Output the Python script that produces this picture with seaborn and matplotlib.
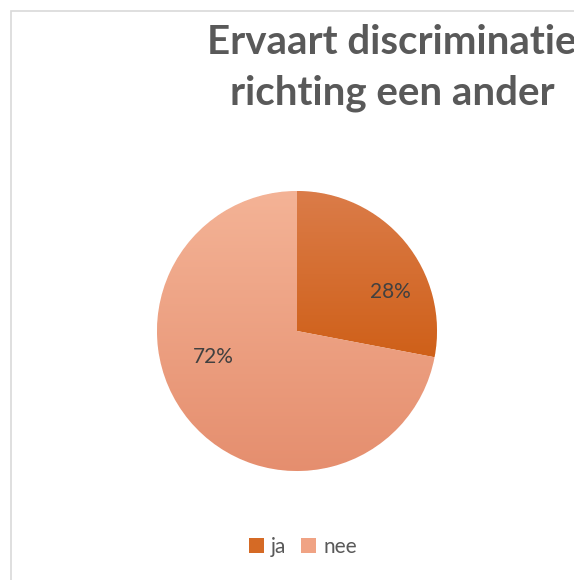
import matplotlib
matplotlib.use("Agg")
import matplotlib.pyplot as plt
import seaborn as sns
import numpy as np
from matplotlib.patches import Rectangle, Patch
from matplotlib.colors import LinearSegmentedColormap

# Gegevens
categorieen = ["ja", "nee"]
percentages = [28, 72]
kleuren_boven = ["#DB7C49", "#F4B396"]
kleuren_onder = ["#CF6019", "#E58E6E"]
kleuren = ["#D56A25", "#F0A384"]

sns.set_theme(style="white")
plt.rcParams["font.family"] = ["Lato", "DejaVu Sans"]

W, H = 574, 580
fig = plt.figure(figsize=(W / 100, H / 100), dpi=100)
fig.patch.set_facecolor("white")

# kader rond de grafiek (loopt door buiten beeld)
fig.patches.append(Rectangle((10.5 / W, -0.1), 1.2, 1 - 10.5 / H + 0.1,
                             transform=fig.transFigure, fill=False,
                             edgecolor="#D9D9D9", linewidth=1.2))

# taart
cx, cy, r = 297, H - 331, 140
ax = fig.add_axes([(cx - r) / W, (cy - r) / H, 2 * r / W, 2 * r / H])
wedges, teksten = ax.pie(percentages, colors=kleuren, startangle=90,
                         counterclock=False, radius=1,
                         wedgeprops=dict(linewidth=0.6, edgecolor="white"))
ax.set_xlim(-1, 1)
ax.set_ylim(-1, 1)
ax.set_aspect("equal")
ax.axis("off")

# verloop per segment
for w, top, bot in zip(wedges, kleuren_boven, kleuren_onder):
    verts = w.get_path().vertices
    y0, y1 = verts[:, 1].min(), verts[:, 1].max()
    cmap = LinearSegmentedColormap.from_list("g", [bot, top])
    grad = np.linspace(0, 1, 256).reshape(-1, 1)
    im = ax.imshow(grad, cmap=cmap, extent=[-1, 1, y0, y1], origin="lower",
                   aspect="auto", zorder=w.get_zorder() + 0.1)
    im.set_clip_path(w)
ax.set_xlim(-1, 1)
ax.set_ylim(-1, 1)

# labels (Excel plaatst ze iets anders dan het midden)
label_pos = [(0.665, 0.28), (-0.595, -0.185)]
for p, (lx, ly) in zip(percentages, label_pos):
    ax.text(lx, ly, f"{p}%", ha="center", va="center", fontsize=15,
            color="#404040", zorder=5)

# titel (loopt rechts net buiten beeld, net als het origineel)
fig.text(392 / W, 1 - 43 / H, "Ervaart discriminatie", ha="center", va="center",
         fontsize=29, fontweight="bold", color="#595959")
fig.text(392 / W, 1 - 93 / H, "richting een ander", ha="center", va="center",
         fontsize=29, fontweight="bold", color="#595959")

# legenda
handles = [Patch(facecolor=c, edgecolor="none") for c in kleuren]
fig.legend(handles, categorieen, loc="center", bbox_to_anchor=(303 / W, 1 - 547 / H),
           ncol=2, frameon=False, fontsize=15, handlelength=0.7, handleheight=0.7,
           handletextpad=0.35, columnspacing=0.7, labelcolor="#595959")

fig.savefig("out.png", dpi=100, facecolor="white")
